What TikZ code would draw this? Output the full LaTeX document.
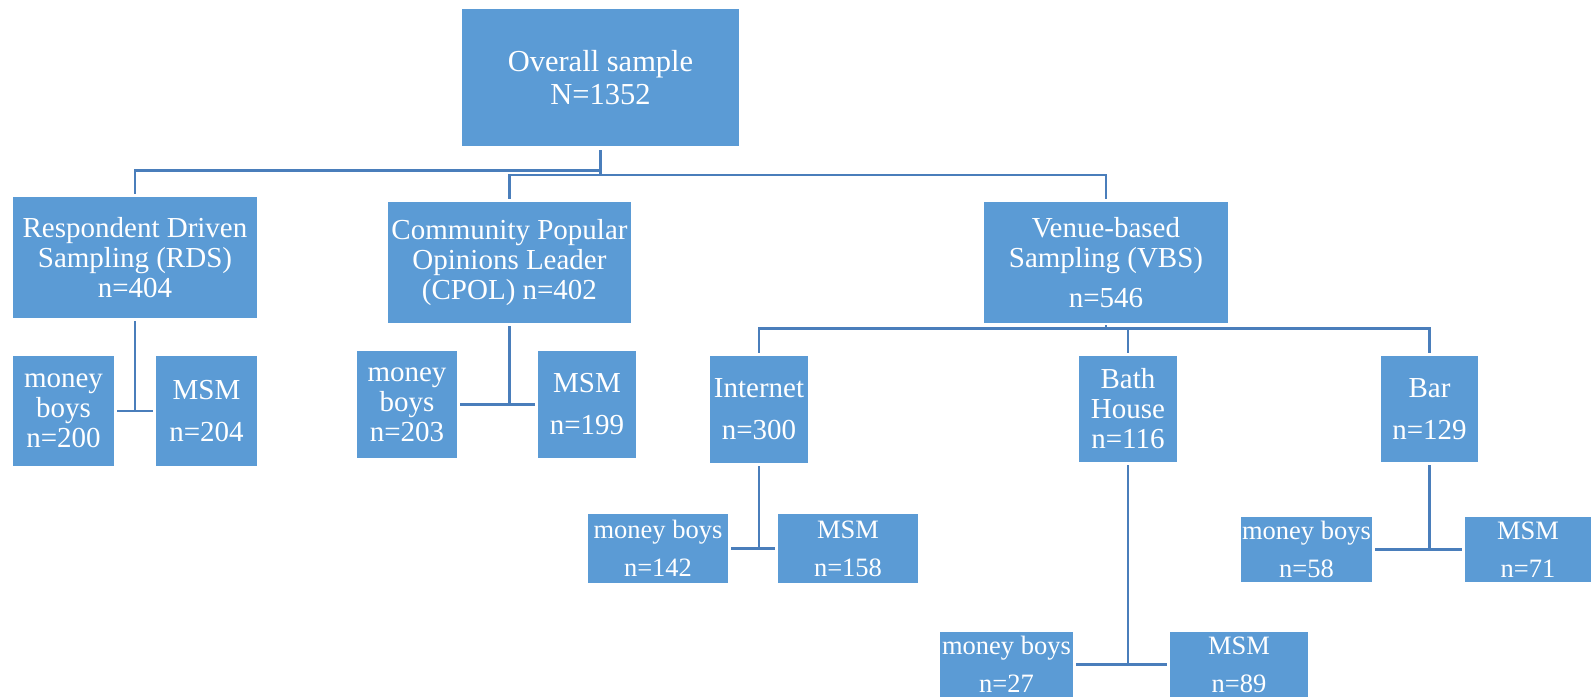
\documentclass[tikz,border=0pt]{standalone}
\usepackage{fontspec}
\setmainfont{Liberation Serif}
\usetikzlibrary{calc}
\definecolor{boxblue}{HTML}{5B9BD5}
\definecolor{lineblue}{HTML}{4A7EBB}
\tikzset{
  box/.style={fill=boxblue, text=white, inner sep=0pt, align=center, anchor=center},
  toptext/.style={font=\fontsize{30.5}{33}\selectfont},
  bigtext/.style={font=\fontsize{29}{30}\selectfont},
  twoline/.style={font=\fontsize{29}{42}\selectfont},
  smalltext/.style={font=\fontsize{26.5}{38}\selectfont},
  conn/.style={draw=lineblue, line width=2.5pt},
}
\begin{document}
\begin{tikzpicture}[x=1pt,y=1pt]
\useasboundingbox (0,0) rectangle (1591,-698);
% level 0
\node[box,toptext,minimum width=277pt,minimum height=137pt] (top) at (600.5,-77.5) {Overall sample\\N=1352};
% level 1
\node[box,bigtext,minimum width=244pt,minimum height=121pt] (rds) at (135,-257.5) {Respondent Driven\\Sampling (RDS)\\n=404};
\node[box,bigtext,minimum width=243pt,minimum height=121pt] (cpol) at (509.5,-262.5) {Community Popular\\Opinions Leader\\(CPOL) n=402};
\node[box,bigtext,minimum width=244pt,minimum height=121pt] (vbs) at (1106,-262.5) {Venue-based\\Sampling (VBS)\\[10.5pt]n=546};
% level 2
\node[box,bigtext,minimum width=101pt,minimum height=110pt] (mb1) at (63.5,-411) {money\\boys\\n=200};
\node[box,twoline,minimum width=101pt,minimum height=110pt] (msm1) at (206.5,-411) {MSM\\n=204};
\node[box,bigtext,minimum width=100pt,minimum height=107pt] (mb2) at (407,-404.5) {money\\boys\\n=203};
\node[box,twoline,minimum width=98pt,minimum height=107pt] (msm2) at (587,-404.5) {MSM\\n=199};
\node[box,twoline,minimum width=98pt,minimum height=107pt] (inet) at (759,-409.5) {Internet\\n=300};
\node[box,bigtext,minimum width=98pt,minimum height=106pt] (bath) at (1128,-409) {Bath\\House\\n=116};
\node[box,twoline,minimum width=97pt,minimum height=106pt] (bar) at (1429.5,-409) {Bar\\n=129};
% level 3
\node[box,smalltext,minimum width=140pt,minimum height=69pt] (mb3) at (658,-548.5) {money boys\\n=142};
\node[box,smalltext,minimum width=140pt,minimum height=69pt] (msm3) at (848,-548.5) {MSM\\n=158};
\node[box,smalltext,minimum width=133pt,minimum height=65pt] (mb4) at (1006.5,-664.5) {money boys\\n=27};
\node[box,smalltext,minimum width=138pt,minimum height=65pt] (msm4) at (1239,-664.5) {MSM\\n=89};
\node[box,smalltext,minimum width=131pt,minimum height=65pt] (mb5) at (1306.5,-549.5) {money boys\\n=58};
\node[box,smalltext,minimum width=126pt,minimum height=65pt] (msm5) at (1528,-549.5) {MSM\\n=71};
% connector levels
\coordinate (hL) at (0,-170.7);
\coordinate (hR) at (0,-175);
\coordinate (hV) at (0,-328.5);
% top connectors
\draw[conn] ([yshift=-4pt]top.south) -- (top.south |- hR);
\draw[conn] (top.south |- hL) -| ([yshift=3pt]rds.north);
\draw[conn] ([yshift=3pt]cpol.north) |- (vbs.north |- hR) -- ([yshift=3pt]vbs.north);
% VBS connectors
\draw[conn] ([yshift=-2pt]vbs.south) -- (vbs.south |- hV);
\draw[conn] ([yshift=3pt]inet.north) |- (bar.north |- hV) -- ([yshift=3pt]bar.north);
\draw[conn] (bath.north |- hV) -- ([yshift=3pt]bath.north);
% child connectors
\draw[conn] ([yshift=-3pt]rds.south) -- (rds.south |- mb1.east);
\draw[conn] ([xshift=3pt]mb1.east) -- ([xshift=-3pt]msm1.west);
\draw[conn] ([yshift=-3pt]cpol.south) -- (cpol.south |- mb2.east);
\draw[conn] ([xshift=3pt]mb2.east) -- ([xshift=-3pt]msm2.west);
\draw[conn] ([yshift=-3pt]inet.south) -- (inet.south |- mb3.east);
\draw[conn] ([xshift=3pt]mb3.east) -- ([xshift=-3pt]msm3.west);
\draw[conn] ([yshift=-3pt]bath.south) -- (bath.south |- mb4.east);
\draw[conn] ([xshift=3pt]mb4.east) -- ([xshift=-3pt]msm4.west);
\draw[conn] ([yshift=-3pt]bar.south) -- (bar.south |- mb5.east);
\draw[conn] ([xshift=3pt]mb5.east) -- ([xshift=-3pt]msm5.west);
\end{tikzpicture}
\end{document}
